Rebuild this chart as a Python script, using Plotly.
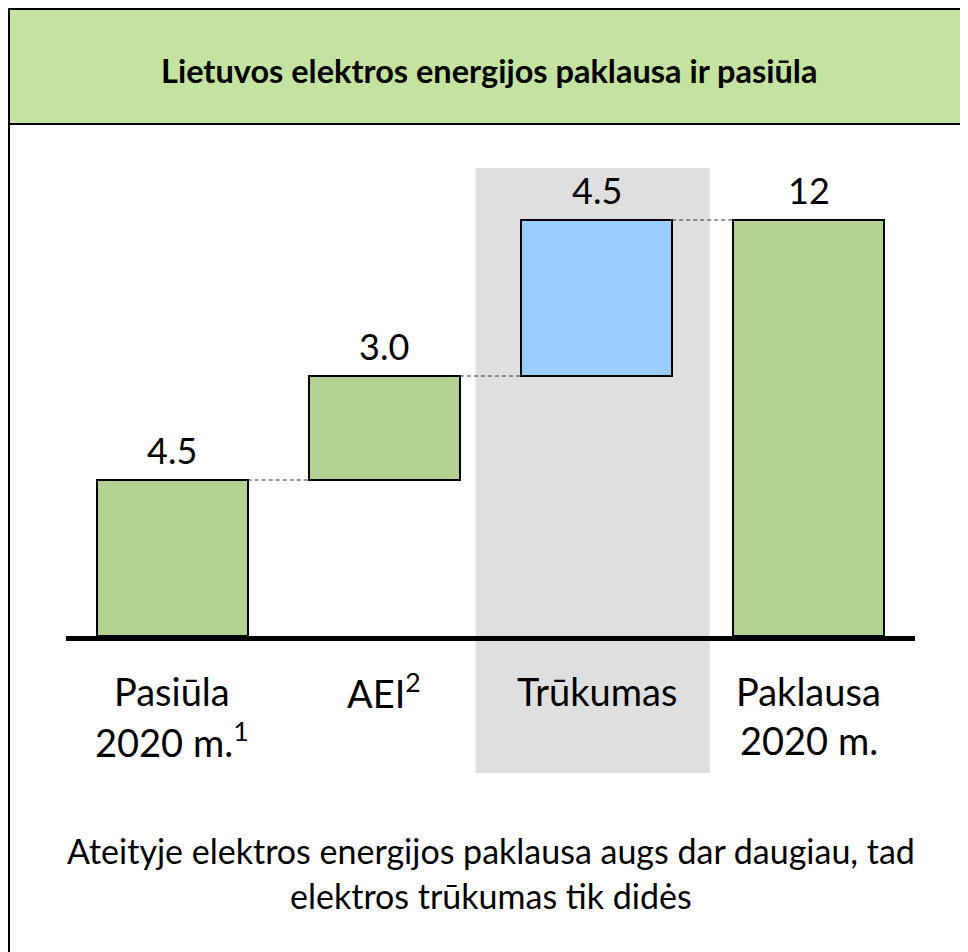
import plotly.graph_objects as go

categories = ["Pasiūla 2020 m.", "AEI", "Trūkumas", "Paklausa 2020 m."]
label_line1 = ["Pasiūla", "AEI<sup>2</sup>", "Trūkumas", "Paklausa"]
label_line2 = ["2020 m.<sup>1</sup>", "", "", "2020 m."]
values = [4.5, 3.0, 4.5, 12]
bases = [0, 4.5, 7.5, 0]
value_text = ["4.5", "3.0", "4.5", "12"]
bar_colors = ["#B2D291", "#B2D291", "#99CCFF", "#B2D291"]

title = "Lietuvos elektros energijos paklausa ir pasiūla"
footer1 = "Ateityje elektros energijos paklausa augs dar daugiau, tad"
footer2 = "elektros trūkumas tik didės"

FONT = "Lato"
W, H = 968, 952
OFF = 8  # page body margin
# plot area in page pixels
PL, PR, PT, PB = 66, 915, 140, 636
L = PL - OFF
R = W - (PR - OFF)
T = PT - OFF
B = H - (PB - OFF)
pw, ph = W - L - R, H - T - B


def px_x(p):
    return (p - OFF - L) / pw


def px_y(p):
    return (H - B - (p - OFF)) / ph


x = list(range(len(categories)))
bw = 0.712

fig = go.Figure()
fig.add_trace(go.Bar(
    x=x, y=values, base=bases, width=bw,
    marker=dict(color=bar_colors, line=dict(color="black", width=2)),
    hoverinfo="skip", showlegend=False,
))

shapes = []
# grey highlight band behind "Trūkumas"
shapes.append(dict(type="rect", xref="x", yref="paper", x0=1.43, x1=2.533,
                   y0=px_y(773), y1=px_y(168), fillcolor="#DFDFDF",
                   line=dict(width=0), layer="below"))
# header box
shapes.append(dict(type="rect", xref="paper", yref="paper", x0=px_x(9), x1=px_x(985),
                   y0=px_y(124), y1=px_y(9), fillcolor="#C5E3A0",
                   line=dict(color="black", width=2), layer="below"))
# outer border left
shapes.append(dict(type="line", xref="paper", yref="paper", x0=px_x(9), x1=px_x(9),
                   y0=px_y(9), y1=px_y(970), line=dict(color="black", width=2)))
# connectors
tops = [b + v for b, v in zip(bases, values)]
for i in range(len(x) - 1):
    level = tops[i]
    shapes.append(dict(type="line", xref="x", yref="y",
                       x0=x[i] + bw / 2, x1=x[i + 1] - bw / 2, y0=level, y1=level,
                       line=dict(color="#333333", width=1, dash="4px,3px")))

annotations = []
for i in x:
    annotations.append(dict(x=i, y=tops[i], xref="x", yref="y", text=value_text[i],
                            showarrow=False, xanchor="center", yanchor="bottom", yshift=6,
                            font=dict(size=36, color="black", family=FONT)))
    annotations.append(dict(x=i, y=px_y(691), xref="x", yref="paper", text=label_line1[i],
                            showarrow=False, xanchor="center", yanchor="middle",
                            font=dict(size=38, color="black", family=FONT)))
    if label_line2[i]:
        annotations.append(dict(x=i, y=px_y(740), xref="x", yref="paper", text=label_line2[i],
                                showarrow=False, xanchor="center", yanchor="middle",
                                font=dict(size=38, color="black", family=FONT)))

annotations.append(dict(x=px_x(489), y=px_y(70), xref="paper", yref="paper",
                        text="<b>" + title + "</b>", showarrow=False,
                        xanchor="center", yanchor="middle",
                        font=dict(size=32.5, color="black", family=FONT)))
annotations.append(dict(x=px_x(491), y=px_y(850), xref="paper", yref="paper", text=footer1,
                        showarrow=False, xanchor="center", yanchor="middle",
                        font=dict(size=34, color="black", family=FONT)))
annotations.append(dict(x=px_x(491), y=px_y(895), xref="paper", yref="paper", text=footer2,
                        showarrow=False, xanchor="center", yanchor="middle",
                        font=dict(size=34, color="black", family=FONT)))

ymax = 12 * ph / (PB - 220)

fig.update_layout(
    width=W, height=H,
    margin=dict(l=L, r=R, t=T, b=B, pad=0),
    paper_bgcolor="white", plot_bgcolor="rgba(0,0,0,0)",
    xaxis=dict(range=[-0.5, 3.5], showgrid=False, zeroline=False, showticklabels=False,
               showline=True, linecolor="black", linewidth=5, ticks=""),
    yaxis=dict(range=[0, ymax], showgrid=False, zeroline=False, showticklabels=False,
               showline=False, ticks=""),
    shapes=shapes, annotations=annotations,
    bargap=0, font=dict(family=FONT),
)

fig.write_html("out.html")
